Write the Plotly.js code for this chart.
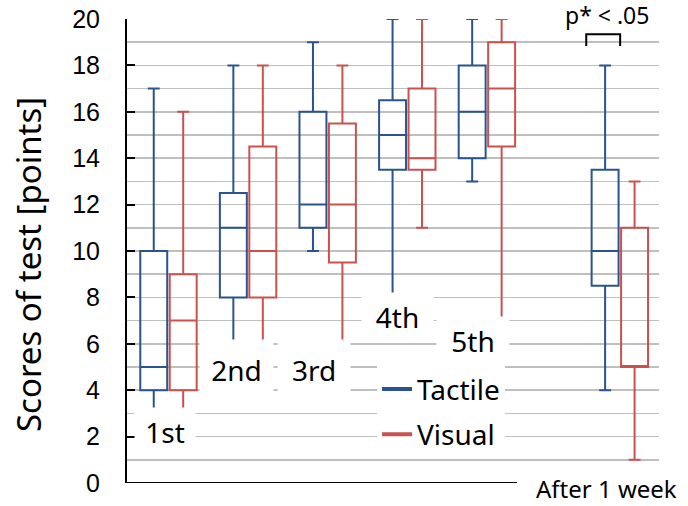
<!DOCTYPE html>
<html>
<head>
<meta charset="utf-8">
<script src="https://cdn.plot.ly/plotly-3.0.1.min.js"></script>
<style>html,body{margin:0;padding:0;background:#fff;}#chart{width:688px;height:506px;}</style>
</head>
<body>
<div id="chart"></div>
<script>
// ---- data ----
const sessions = ['1st', '2nd', '3rd', '4th', '5th', 'After 1 week'];
const sessionPos = [1, 2, 3, 4, 5, 6.67];

const tactileUpper  = [17, 18, 19, 20, 20, 18];
const tactileQ3     = [10, 12.5, 16, 16.5, 18, 13.5];
const tactileMedian = [5, 11, 12, 15, 16, 10];
const tactileQ1     = [4, 8, 11, 13.5, 14, 8.5];
const tactileLower  = [2, 4.5, 10, 7, 13, 4];

const visualUpper  = [16, 18, 18, 20, 20, 13];
const visualQ3     = [9, 14.5, 15.5, 17, 19, 11];
const visualMedian = [7, 10, 12, 14, 17, 5];
const visualQ1     = [4, 8, 9.5, 13.5, 14.5, 5];
const visualLower  = [2, 4.5, 4.5, 11, 6, 1];

const seriesNames = ['Tactile', 'Visual'];
const yTickVals = [0, 2, 4, 6, 8, 10, 12, 14, 16, 18, 20];
const sigText = 'p* < .05';
const yTitle = 'Scores of test [points]';

// ---- styling ----
const BLUE = '#2b5391';
const RED = '#c9524f';
const FONT = 'Noto Sans, Open Sans, sans-serif';

function boxTrace(name, color, lower, q1, med, q3, upper) {
  return {
    type: 'box', name: name, showlegend: false,
    x: sessionPos, q1: q1, median: med, q3: q3,
    lowerfence: lower, upperfence: upper,
    line: {color: color, width: 2},
    fillcolor: 'rgba(0,0,0,0)',
    whiskerwidth: 0.44,
    boxpoints: false, hoverinfo: 'skip'
  };
}
function legendTrace(name, color, grp) {
  return {type: 'scatter', mode: 'lines', name: name, x: [null], y: [null],
          legendgroup: grp, line: {color: color, width: 4}, hoverinfo: 'skip'};
}

const traces = [
  boxTrace(seriesNames[0], BLUE, tactileLower, tactileQ1, tactileMedian, tactileQ3, tactileUpper),
  boxTrace(seriesNames[1], RED, visualLower, visualQ1, visualMedian, visualQ3, visualUpper),
  legendTrace(seriesNames[0], BLUE, 'a'),
  legendTrace(seriesNames[1], RED, 'b')
];

// label boxes (white) over the plot, layout only
const labelBoxes = [
  {x: 0.956, y: 2.2,  w: 60, h: 48},
  {x: 1.853, y: 4.87, w: 73, h: 60},
  {x: 2.824, y: 4.87, w: 72, h: 60},
  {x: 3.871, y: 7.14, w: 71, h: 48},
  {x: 4.831, y: 6.12, w: 72, h: 48}
];
const annotations = labelBoxes.map((b, i) => ({
  text: sessions[i], x: b.x, y: b.y, xref: 'x', yref: 'y',
  xanchor: 'center', yanchor: 'middle', showarrow: false,
  width: b.w, height: b.h, bgcolor: '#ffffff', borderpad: 0,
  font: {family: FONT, size: 28, color: '#000'}
}));
annotations.push({
  text: sessions[5], x: 6.505, y: -0.0129, xref: 'x', yref: 'paper',
  xanchor: 'center', yanchor: 'middle', showarrow: false,
  font: {family: FONT, size: 24, color: '#000'}
});
annotations.push({
  text: sigText, x: 6.51, y: 1.0086, xref: 'x', yref: 'paper',
  xanchor: 'center', yanchor: 'middle', showarrow: false,
  bgcolor: '#ffffff', borderpad: 0,
  font: {family: FONT, size: 23, color: '#000'}
});
// y-axis title, placed as a rotated annotation to match the reference position
annotations.push({
  text: yTitle, x: -0.184, y: 0.47, xref: 'paper', yref: 'paper',
  xanchor: 'center', yanchor: 'middle', showarrow: false, textangle: -90,
  font: {family: FONT, size: 33, color: '#000'}
});

const layout = {
  width: 688, height: 506,
  margin: {l: 127, r: 29, t: 19, b: 23},
  paper_bgcolor: '#fff', plot_bgcolor: '#fff',
  boxmode: 'group', boxgap: 0.26, boxgroupgap: 0.085,
  showlegend: true,
  legend: {
    x: 0.47, y: 0.256, xanchor: 'left', yanchor: 'top',
    bgcolor: '#ffffff', borderwidth: 0, tracegroupgap: 6,
    font: {family: FONT, size: 28, color: '#000'}
  },
  xaxis: {
    range: [0.479, 7.162], showgrid: false, zeroline: false,
    showticklabels: false, ticks: '', showline: true, linecolor: 'rgba(0,0,0,0)'
  },
  yaxis: {
    range: [0, 20], tickvals: yTickVals, ticktext: yTickVals.map(String),
    showgrid: true, gridcolor: '#bfbfbf', gridwidth: 1.5,
    minor: {dtick: 1, showgrid: true, gridcolor: '#bfbfbf', gridwidth: 1.5, ticks: ''},
    zeroline: false, showline: true, linecolor: '#000', linewidth: 2,
    ticks: 'inside', ticklen: 8, tickwidth: 2, tickcolor: '#000',
    ticklabelstandoff: 20,
    tickfont: {family: 'Liberation Sans, Arial, sans-serif', size: 25, color: '#000'}
  },
  shapes: [
    {type: 'line', xref: 'paper', yref: 'y', x0: 0, x1: 0.733, y0: 0, y1: 0,
     line: {color: '#000', width: 2}},
    {type: 'path', xref: 'x', yref: 'y', path: 'M 6.248 18.84 L 6.248 19.34 L 6.674 19.34 L 6.674 18.84',
     line: {color: '#000', width: 2}}
  ],
  annotations: annotations
};

Plotly.newPlot('chart', traces, layout, {displayModeBar: false, staticPlot: true});
</script>
</body>
</html>
